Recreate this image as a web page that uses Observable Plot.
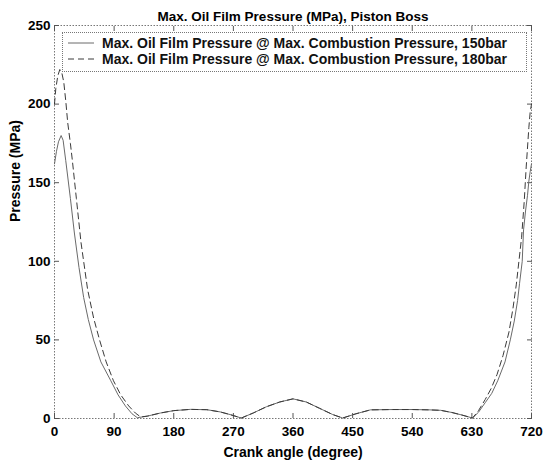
<!DOCTYPE html>
<html>
<head>
<meta charset="utf-8">
<script src="https://cdn.jsdelivr.net/npm/d3@7"></script>
<script src="https://cdn.jsdelivr.net/npm/@observablehq/plot@0.6"></script>
<style>
  body { margin: 0; background: #fff; }
  #wrap { position: relative; width: 543px; height: 466px; font-family: "Liberation Sans", Arial, sans-serif; }
  #legend { position: absolute; left: 62px; top: 32px; width: 465px; height: 40px; border: 1px dotted #777; background: #fff; box-sizing: border-box; }
  .entry { display: flex; align-items: center; height: 16px; font-weight: bold; font-size: 14px; color: #111; margin-left: 5px; white-space: nowrap; }
  .entry:first-child { margin-top: 2px; }
  .entry svg { margin-right: 8px; }
</style>
</head>
<body>
<div id="wrap">
  <div id="chart"></div>
  <div id="legend"></div>
</div>
<script>
const title = "Max. Oil Film Pressure (MPa), Piston Boss";
const xLabel = "Crank angle (degree)";
const yLabel = "Pressure (MPa)";
const xTicks = [0, 90, 180, 270, 360, 450, 540, 630, 720];
const yTicks = [0, 50, 100, 150, 200, 250];
const seriesNames = [
  "Max. Oil Film Pressure @ Max. Combustion Pressure, 150bar",
  "Max. Oil Film Pressure @ Max. Combustion Pressure, 180bar"
];

// crank angle (deg) and pressure (MPa), 150 bar
const angle150 = [0, 3, 6, 10, 13, 17, 24, 30, 37, 44, 51, 59, 70, 85, 96, 107, 117, 125, 140, 160, 180, 205, 230, 250, 265, 282, 300, 320, 340, 360, 380, 400, 420, 435, 455, 477, 510, 540, 565, 583, 600, 615, 631, 640, 650, 660, 669, 680, 688, 694, 699, 702, 706, 708, 711, 714, 716, 718, 720];
const press150 = [162, 170, 176, 180, 177, 164, 140, 118, 96, 77, 63, 50, 36, 24, 15, 8, 3, 0.5, 1.5, 3.5, 5, 5.8, 5.6, 4.2, 2.5, 0.3, 3.5, 7.5, 10.5, 12.5, 10.5, 6.5, 2.5, 0.3, 3, 5.5, 5.7, 5.7, 5.5, 5.2, 3.8, 2.2, 0.3, 4, 10, 16, 24, 36, 50, 62, 75, 86, 100, 120, 132, 142, 151, 157, 162];

// 180 bar
const angle180 = [0, 2, 5, 8, 11, 14, 17, 20, 24, 27, 33, 40, 50, 59, 68, 78, 89, 100, 112, 122, 130, 140, 160, 180, 205, 230, 250, 265, 282, 300, 320, 340, 360, 380, 400, 420, 435, 455, 477, 510, 540, 565, 583, 600, 615, 631, 640, 650, 659, 668, 677, 686, 692, 697, 701, 705, 709, 712, 716, 718, 720];
const press180 = [200, 210, 218, 222, 220, 214, 202, 188, 175, 164, 140, 112, 82, 64, 50, 36, 24, 15, 8, 3.5, 1, 1.5, 3.5, 5, 5.8, 5.6, 4.2, 2.5, 0.3, 3.5, 7.5, 10.5, 12.5, 10.5, 6.5, 2.5, 0.3, 3, 5.5, 5.7, 5.7, 5.5, 5.2, 3.8, 2.2, 0.3, 5, 12, 19, 28, 40, 55, 70, 85, 100, 115, 138, 160, 185, 195, 200];

const data150 = angle150.map((a, i) => ({angle: a, p: press150[i]}));
const data180 = angle180.map((a, i) => ({angle: a, p: press180[i]}));

const solidStyle = {stroke: "#6a6a6a", strokeWidth: 1};
const dashStyle = {stroke: "#3a3a3a", strokeWidth: 1, strokeDasharray: "6,4"};

const fontFamily = "'Liberation Sans', Arial, sans-serif";

const chart = Plot.plot({
  width: 543,
  height: 466,
  marginLeft: 54,
  marginRight: 12,
  marginTop: 25,
  marginBottom: 48,
  style: {fontFamily, fontSize: "13px", color: "#000", background: "#fff"},
  x: {domain: [0, 720]},
  y: {domain: [0, 250]},
  marks: [
    Plot.frame({stroke: "#777", strokeDasharray: "1.5,1.5"}),
    Plot.axisX({ticks: xTicks, tickSize: 0, tickPadding: 8, fontWeight: "bold", fontSize: 13.5, label: null, tickFormat: d => d}),
    Plot.axisX({ticks: xTicks, tickSize: -5, text: null, label: null, stroke: "#555"}),
    Plot.axisX({anchor: "top", ticks: xTicks, tickSize: -5, text: null, label: null, stroke: "#555"}),
    Plot.axisY({ticks: yTicks, tickSize: 0, tickPadding: 4, fontWeight: "bold", fontSize: 13.5, label: null, tickFormat: d => d}),
    Plot.axisY({ticks: yTicks, tickSize: -5, text: null, label: null, stroke: "#555"}),
    Plot.axisY({anchor: "right", ticks: yTicks, tickSize: -5, text: null, label: null, stroke: "#555"}),
    Plot.line(data150, {x: "angle", y: "p", ...solidStyle}),
    Plot.line(data180, {x: "angle", y: "p", ...dashStyle}),
    Plot.text([title], {frameAnchor: "top", text: d => d, dy: -14, fontWeight: "bold", fontSize: 13.5}),
    Plot.text([xLabel], {frameAnchor: "bottom", text: d => d, dy: 38, fontWeight: "bold", fontSize: 14}),
    Plot.text([yLabel], {frameAnchor: "left", text: d => d, dx: -39, rotate: -90, fontWeight: "bold", fontSize: 14})
  ]
});
document.getElementById("chart").appendChild(chart);

const legend = document.getElementById("legend");
const styles = [solidStyle, dashStyle];
seriesNames.forEach((name, i) => {
  const row = document.createElement("div");
  row.className = "entry";
  const s = styles[i];
  row.innerHTML = `<svg width="26" height="6"><line x1="0" y1="3" x2="26" y2="3" stroke="${s.stroke}" stroke-width="${s.strokeWidth}" ${s.strokeDasharray ? `stroke-dasharray="${s.strokeDasharray}"` : ""}/></svg><span>${name}</span>`;
  legend.appendChild(row);
});
</script>
</body>
</html>
